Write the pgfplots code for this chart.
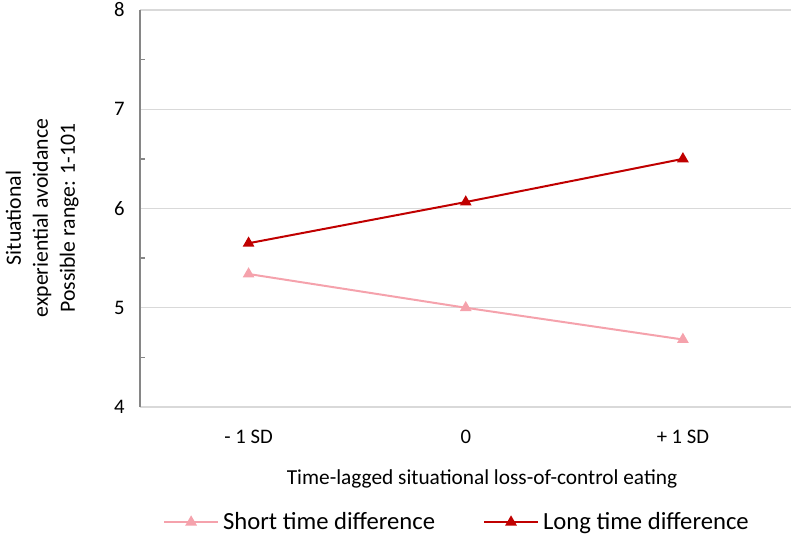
\documentclass[border=0pt]{standalone}
\usepackage{fontspec}
\setmainfont{Carlito}
\usepackage{pgfplots}
\pgfplotsset{compat=1.18}
\definecolor{pinkline}{RGB}{245,162,172}
\definecolor{darkred}{RGB}{192,0,0}
\definecolor{gridgray}{RGB}{217,217,217}
\definecolor{axgray}{RGB}{134,134,134}
\begin{document}
\begin{tikzpicture}[x=0.75pt,y=0.75pt]
\useasboundingbox (0,0) rectangle (797,536);
\begin{axis}[
  at={(140*0.75pt,129*0.75pt)}, anchor=south west,
  scale only axis,
  width=651.5*0.75pt, height=397*0.75pt,
  xmin=-0.5, xmax=2.5, ymin=4, ymax=8,
  xtick={0,1,2}, xticklabels={- 1 SD,0,+ 1 SD},
  ytick={4,5,6,7,8},
  minor ytick={4.5,5.5,6.5,7.5},
  ymajorgrids,
  major grid style={gridgray, line width=1.1pt},
  axis x line*=bottom, axis y line*=left,
  x axis line style={gridgray, line width=1.1pt, -},
  y axis line style={axgray, line width=1.5pt, -},
  major tick length=0pt,
  minor tick length=3.5pt,
  minor tick style={axgray, line width=1pt},
  tick align=inside,
  xtick style={draw=none},
  ticklabel style={font=\fontsize{15.5}{18}\selectfont},
  /pgf/number format/assume math mode=true,
  yticklabel style={xshift=-8pt},
  xticklabel style={yshift=-14pt},
  xlabel={Time-lagged situational loss-of-control eating},
  xlabel style={at={(rel axis cs:0.525,-0.181)}, anchor=center, font=\fontsize{16}{18}\selectfont},
  ylabel={Situational\\experiential avoidance\\Possible range: 1-101},
  ylabel style={at={(rel axis cs:-0.150,0.476)}, anchor=center, rotate=0, align=center, font=\fontsize{16.3}{20.25}\selectfont},
  legend style={at={(rel axis cs:0.488,-0.290)}, anchor=center, draw=none, fill=none,
    legend columns=2, font=\fontsize{18.5}{20}\selectfont,
    nodes={inner xsep=3pt},
    /tikz/every even column/.append style={column sep=33pt}},
  legend image code/.code={
    \draw[#1, mark=none] (0pt,0pt) -- (40.5pt,0pt);
    \draw[#1, only marks] plot coordinates {(20.25pt,0pt)};
  },
  clip=false,
]
\addplot[pinkline, line width=1.5pt, mark=triangle*, mark size=3.6pt, mark options={solid}]
  coordinates {(0,5.34) (1,5.00) (2,4.68)};
\addlegendentry{Short time difference}
\addplot[darkred, line width=1.5pt, mark=triangle*, mark size=3.6pt, mark options={solid}]
  coordinates {(0,5.65) (1,6.065) (2,6.50)};
\addlegendentry{Long time difference}
\end{axis}
\end{tikzpicture}
\end{document}
